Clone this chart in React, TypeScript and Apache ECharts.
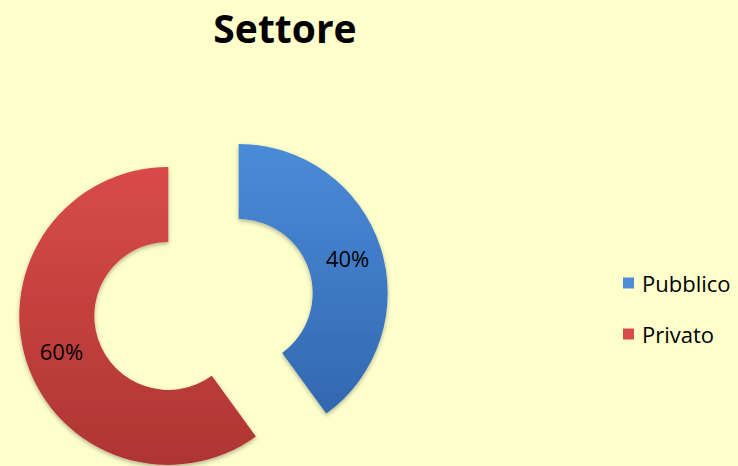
import React, { useEffect, useRef } from "react";
import * as echarts from "echarts";

const categories = ["Pubblico", "Privato"];
const values = [40, 60];
const colorTop = ["#4B8BD8", "#D84B48"];
const colorBottom = ["#3268B0", "#AE3533"];
const labelPad = [
  [20, 0, 0, 0],
  [4, 0, 0, 4],
];

export default function App() {
  const ref = useRef<HTMLDivElement>(null);
  useEffect(() => {
    if (!ref.current) return;
    const chart = echarts.init(ref.current, null, { renderer: "svg" });
    const data = categories.map((name, i) => ({
      name,
      value: values[i],
      selected: true,
      label: { padding: labelPad[i] },
      itemStyle: {
        color: new echarts.graphic.LinearGradient(0, 0, 0, 1, [
          { offset: 0, color: colorTop[i] },
          { offset: 1, color: colorBottom[i] },
        ]),
      },
    }));
    chart.setOption({
      animation: false,
      backgroundColor: "#FFFFCC",
      title: {
        text: "Settore",
        left: 280,
        top: 3,
        textAlign: "center",
        textStyle: {
          fontFamily: "Open Sans",
          fontWeight: "bold",
          fontSize: 39,
          color: "#000",
        },
      },
      legend: {
        orient: "vertical",
        left: 618,
        top: 267,
        itemGap: 29,
        itemWidth: 11,
        itemHeight: 11,
        icon: "rect",
        data: categories.map((name, i) => ({
          name,
          itemStyle: { color: colorTop[i] },
        })),
        textStyle: { fontFamily: "Open Sans", fontSize: 22, color: "#000", padding: [0, 0, 0, 3] },
      },
      series: [
        {
          type: "pie",
          center: [203.5, 304.5],
          radius: [74, 149],
          startAngle: 90,
          clockwise: true,
          selectedMode: "multiple",
          selectedOffset: 37,
          label: {
            show: true,
            position: "inside",
            formatter: "{d}%",
            fontFamily: "Open Sans",
            fontSize: 22,
            color: "#000",
          },
          labelLine: { show: false },
          emphasis: { disabled: true },
          itemStyle: {
            shadowColor: "rgba(0,0,0,0.3)",
            shadowBlur: 4,
            shadowOffsetY: 2,
          },
          data,
        },
      ],
    });
    return () => chart.dispose();
  }, []);
  return (
    <div
      ref={ref}
      style={{ position: "fixed", left: 0, top: 0, width: 738, height: 466 }}
    />
  );
}
